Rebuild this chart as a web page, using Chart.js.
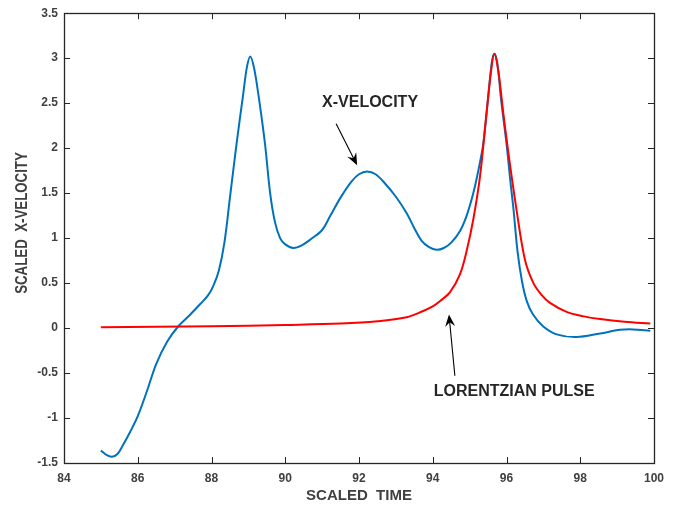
<!DOCTYPE html>
<html>
<head>
<meta charset="utf-8">
<script src="https://cdn.jsdelivr.net/npm/chart.js@4/dist/chart.umd.min.js"></script>
<style>
  html, body { margin: 0; padding: 0; background: #fff; }
  #wrap { width: 677px; height: 508px; }
</style>
</head>
<body>
<div id="wrap"><canvas id="velocity-chart" width="677" height="508"></canvas></div>
<script>
// values
const blueTime = [85.0, 85.15, 85.3, 85.45, 85.6, 85.8, 86.0, 86.25, 86.5, 86.8, 87.1, 87.4, 87.7, 87.9, 88.05,
  88.2, 88.35, 88.5, 88.68, 88.86, 88.96, 89.05, 89.15, 89.27, 89.45, 89.59, 89.72, 89.86, 90.0, 90.22,
  90.45, 90.7, 91.0, 91.21, 91.5, 91.8, 92.0, 92.22, 92.45, 92.7, 93.0, 93.29, 93.5, 93.7, 93.9,
  94.1, 94.3, 94.5, 94.74, 94.92, 95.1, 95.25, 95.37, 95.5, 95.6, 95.67, 95.75, 95.85, 96.0, 96.1,
  96.19, 96.3, 96.42, 96.55, 96.72, 96.99, 97.36, 97.9, 98.54, 99.08, 99.43, 99.9];
const blueVel = [-1.36, -1.41, -1.43, -1.40, -1.30, -1.15, -0.98, -0.70, -0.40, -0.15, 0.02, 0.14, 0.27, 0.36, 0.47,
  0.64, 0.95, 1.45, 2.05, 2.60, 2.90, 3.02, 2.90, 2.60, 2.05, 1.50, 1.18, 1.00, 0.93, 0.89,
  0.92, 0.99, 1.09, 1.24, 1.45, 1.63, 1.71, 1.74, 1.71, 1.61, 1.46, 1.28, 1.11, 0.97, 0.90,
  0.87, 0.89, 0.95, 1.08, 1.25, 1.50, 1.78, 2.05, 2.55, 2.95, 3.05, 2.95, 2.55, 2.05, 1.65,
  1.32, 0.85, 0.52, 0.30, 0.15, 0.02, -0.07, -0.10, -0.06, -0.02, -0.015, -0.03];

const redTime = [85.0, 86.5, 88.0, 90.0, 91.5, 92.5, 93.29, 93.74, 94.0, 94.2, 94.47, 94.74, 94.92, 95.1,
  95.28, 95.46, 95.58, 95.67, 95.78, 95.91, 96.05, 96.27, 96.5, 96.73, 96.95, 97.18, 97.63, 98.1,
  98.54, 99.2, 99.9];
const redVel = [0.01, 0.015, 0.02, 0.035, 0.05, 0.075, 0.12, 0.19, 0.24, 0.30, 0.40, 0.60, 0.86, 1.21,
  1.68, 2.40, 2.85, 3.05, 2.85, 2.40, 1.95, 1.32, 0.76, 0.50, 0.37, 0.28, 0.18, 0.13,
  0.10, 0.07, 0.05];

const xTicks = [84, 86, 88, 90, 92, 94, 96, 98, 100];
const yTicks = [-1.5, -1, -0.5, 0, 0.5, 1, 1.5, 2, 2.5, 3, 3.5];

// annotation text and arrows, in data units
const noteText = ['X-VELOCITY', 'LORENTZIAN PULSE'];
const noteAt = [[92.3, 2.51], [96.21, -0.71]];
const arrowFrom = [[91.38, 2.27], [94.6, -0.53]];
const arrowTo = [[91.95, 1.81], [94.44, 0.15]];

function pts(xs, ys) {
  return xs.map((x, i) => ({ x: x, y: ys[i] }));
}

const axisColor = '#262626';
const labelColor = '#404040';
const fam = '"Liberation Sans", Arial, sans-serif';

// MATLAB style box with inward ticks on all four sides, plus notes
const boxPlugin = {
  id: 'box',
  afterDraw(chart) {
    const ctx = chart.ctx;
    const a = chart.chartArea;
    const xs = chart.scales.x, ys = chart.scales.y;
    ctx.save();
    ctx.strokeStyle = axisColor;
    ctx.lineWidth = 1;
    ctx.beginPath();
    xs.ticks.forEach(t => {
      const px = Math.round(xs.getPixelForValue(t.value)) + 0.5;
      ctx.moveTo(px, a.bottom); ctx.lineTo(px, a.bottom - 6);
      ctx.moveTo(px, a.top); ctx.lineTo(px, a.top + 6);
    });
    ys.ticks.forEach(t => {
      const py = Math.round(ys.getPixelForValue(t.value)) + 0.5;
      ctx.moveTo(a.left, py); ctx.lineTo(a.left + 6, py);
      ctx.moveTo(a.right, py); ctx.lineTo(a.right - 6, py);
    });
    ctx.stroke();
    ctx.lineWidth = 1.3;
    ctx.strokeRect(Math.round(a.left) + 0.5, Math.round(a.top) + 0.5,
      Math.round(a.right - a.left), Math.round(a.bottom - a.top));

    // y axis title, a bit narrow like the original
    ctx.save();
    ctx.translate(22.5, 223);
    ctx.rotate(-Math.PI / 2);
    ctx.scale(0.83, 1);
    ctx.fillStyle = labelColor;
    ctx.font = 'bold 16px ' + fam;
    ctx.textAlign = 'center';
    ctx.textBaseline = 'middle';
    ctx.fillText('SCALED  X-VELOCITY', 0, 0);
    ctx.restore();

    // annotations
    ctx.fillStyle = axisColor;
    ctx.font = 'bold 16px ' + fam;
    ctx.textAlign = 'center';
    ctx.textBaseline = 'middle';
    noteText.forEach((s, i) => {
      ctx.fillText(s, xs.getPixelForValue(noteAt[i][0]), ys.getPixelForValue(noteAt[i][1]));
    });
    arrowFrom.forEach((f, i) => {
      const x1 = xs.getPixelForValue(f[0]), y1 = ys.getPixelForValue(f[1]);
      const x2 = xs.getPixelForValue(arrowTo[i][0]), y2 = ys.getPixelForValue(arrowTo[i][1]);
      const ang = Math.atan2(y2 - y1, x2 - x1);
      ctx.strokeStyle = '#000';
      ctx.lineWidth = 1.1;
      ctx.beginPath();
      ctx.moveTo(x1, y1);
      ctx.lineTo(x2 - 6 * Math.cos(ang), y2 - 6 * Math.sin(ang));
      ctx.stroke();
      const L = 12, W = 5;
      const bx = x2 - L * Math.cos(ang), by = y2 - L * Math.sin(ang);
      const nx = -Math.sin(ang), ny = Math.cos(ang);
      const mx = x2 - 0.65 * L * Math.cos(ang), my = y2 - 0.65 * L * Math.sin(ang);
      ctx.fillStyle = '#000';
      ctx.beginPath();
      ctx.moveTo(x2, y2);
      ctx.lineTo(bx + W * nx, by + W * ny);
      ctx.lineTo(mx, my);
      ctx.lineTo(bx - W * nx, by - W * ny);
      ctx.closePath();
      ctx.fill();
    });
    ctx.restore();
  }
};

const tickFont = { family: fam, size: 12, weight: 'bold' };
const titleFont = { family: fam, size: 15, weight: 'bold' };

new Chart(document.getElementById('velocity-chart'), {
  type: 'line',
  data: {
    datasets: [
      {
        label: 'Lorentzian pulse',
        data: pts(redTime, redVel),
        borderColor: '#ff0000',
        borderWidth: 2,
        pointRadius: 0,
        fill: false,
        tension: 0.35
      },
      {
        label: 'X-velocity',
        data: pts(blueTime, blueVel),
        borderColor: '#0072bd',
        borderWidth: 2,
        pointRadius: 0,
        fill: false,
        tension: 0.35
      }
    ]
  },
  options: {
    responsive: false,
    animation: false,
    layout: { padding: { left: 0, right: 23, top: 8, bottom: 0 } },
    plugins: { legend: { display: false }, tooltip: { enabled: false } },
    scales: {
      x: {
        type: 'linear',
        min: 84, max: 100,
        afterBuildTicks: s => { s.ticks = xTicks.map(v => ({ value: v })); },
        afterFit: s => { s.height = 45; },
        grid: { display: false, drawTicks: false },
        border: { display: false },
        ticks: { color: labelColor, font: tickFont, padding: 8, maxRotation: 0, callback: v => String(v) },
        title: { display: true, text: 'SCALED  TIME', color: labelColor, font: titleFont, padding: { top: 3, bottom: 3 } }
      },
      y: {
        type: 'linear',
        min: -1.5, max: 3.5,
        afterBuildTicks: s => { s.ticks = yTicks.map(v => ({ value: v })); },
        afterFit: s => { s.width = 64; },
        grid: { display: false, drawTicks: false },
        border: { display: false },
        ticks: { color: labelColor, font: tickFont, padding: 6, callback: v => String(v) },
        title: { display: false }
      }
    }
  },
  plugins: [boxPlugin]
});
</script>
</body>
</html>
